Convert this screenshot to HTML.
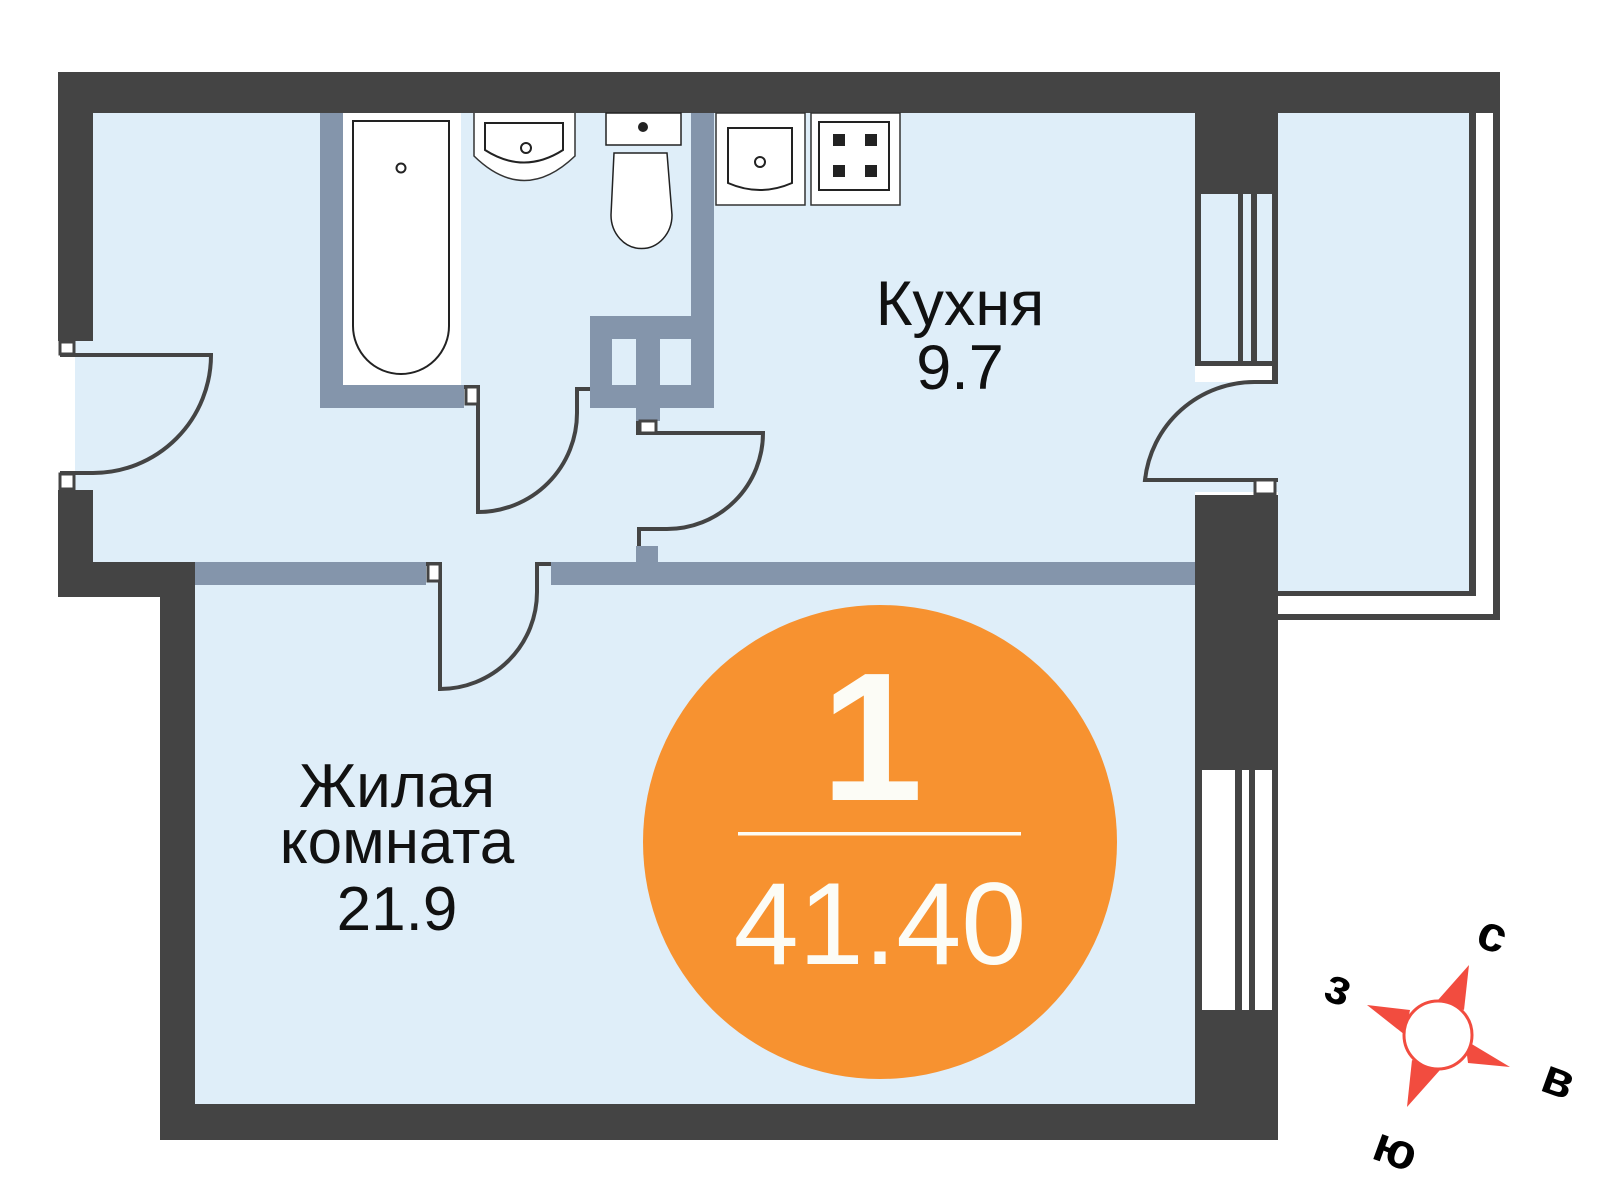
<!DOCTYPE html>
<html><head><meta charset="utf-8"><style>
html,body{margin:0;padding:0;background:#fff;width:1600px;height:1200px;overflow:hidden}
svg{display:block}
text{font-family:"Liberation Sans",sans-serif}
</style></head><body>
<svg width="1600" height="1200" viewBox="0 0 1600 1200" xmlns="http://www.w3.org/2000/svg">
<rect x="75" y="113" width="1120" height="449" fill="#dfeef9"/>
<rect x="93" y="113" width="1102" height="449" fill="#dfeef9"/>
<rect x="195" y="562" width="1000" height="542" fill="#dfeef9"/>
<rect x="1278" y="113" width="191" height="478" fill="#dfeef9"/>
<rect x="1195" y="382" width="83" height="110" fill="#dfeef9"/>

<g fill="#444">
<rect x="58" y="72" width="1442" height="41"/>
<rect x="58" y="72" width="35" height="269"/>
<rect x="58" y="490" width="35" height="107"/>
<rect x="58" y="562" width="137" height="35"/>
<rect x="160" y="562" width="35" height="578"/>
<rect x="160" y="1104" width="1118" height="36"/>
<rect x="1195" y="113" width="83" height="81"/>
<rect x="1195" y="495" width="83" height="275"/>
<rect x="1195" y="1010" width="83" height="130"/>
<rect x="1469" y="113" width="7" height="483"/>
<rect x="1278" y="591" width="198" height="5"/>
<rect x="1493" y="113" width="7" height="507"/>
<rect x="1278" y="614" width="222" height="6"/>
</g>
<rect x="60" y="342" width="14" height="12" fill="#fff" stroke="#444" stroke-width="3"/>
<rect x="60" y="474" width="14" height="15" fill="#fff" stroke="#444" stroke-width="3"/>

<rect x="1195" y="194" width="83" height="171" fill="#dfeef9"/>
<g fill="#444">
<rect x="1195" y="194" width="6" height="172"/>
<rect x="1272" y="194" width="6" height="188"/>
<rect x="1195" y="361" width="83" height="5"/>
<rect x="1238" y="194" width="5" height="167"/>
<rect x="1251" y="194" width="6" height="167"/>
</g>
<rect x="1195" y="770" width="83" height="240" fill="#fff"/>
<g fill="#444">
<rect x="1195" y="770" width="7" height="240"/>
<rect x="1272" y="770" width="6" height="240"/>
<rect x="1235" y="770" width="7" height="240"/>
<rect x="1249" y="770" width="6" height="240"/>
</g>

<g fill="#8495ab">
<rect x="320" y="113" width="23" height="295"/>
<rect x="320" y="385" width="144" height="23"/>
<rect x="691" y="113" width="23" height="295"/>
<rect x="590" y="316" width="124" height="92"/>
<rect x="636" y="408" width="24" height="13"/>
<rect x="195" y="562" width="231" height="23"/>
<rect x="551" y="562" width="644" height="23"/>
<rect x="636" y="546" width="22" height="16"/>
</g>
<rect x="612" y="339" width="24" height="46" fill="#dfeef9"/>
<rect x="660" y="339" width="31" height="46" fill="#dfeef9"/>

<rect x="343" y="113" width="118" height="272" fill="#fff"/>
<path d="M353 121 H449 V326 A48 48 0 0 1 353 326 Z" fill="#fff" stroke="#222" stroke-width="2"/>
<circle cx="401" cy="168" r="4.5" fill="none" stroke="#222" stroke-width="2"/>
<path d="M474 113 V156 Q524 205 575 156 V113" fill="#fff" stroke="#333" stroke-width="1.5"/>
<path d="M485 123 H563 V150 Q524 175 485 150 Z" fill="#fff" stroke="#222" stroke-width="2"/>
<circle cx="526" cy="148" r="5" fill="none" stroke="#222" stroke-width="2"/>
<rect x="606" y="113" width="75" height="32" fill="#fff" stroke="#222" stroke-width="1.5"/>
<circle cx="643" cy="127" r="5" fill="#222"/>
<path d="M614 153 H667 L672 215 A30 33 0 1 1 611 215 Z" fill="#fff" stroke="#222" stroke-width="1.5"/>
<rect x="716" y="113" width="89" height="92" fill="#fff" stroke="#333" stroke-width="1.5"/>
<path d="M728 128 H792 V183 Q760 197 728 183 Z" fill="#fff" stroke="#222" stroke-width="2"/>
<circle cx="760" cy="162" r="5" fill="none" stroke="#222" stroke-width="2"/>
<rect x="811" y="113" width="89" height="92" fill="#fff" stroke="#333" stroke-width="1.5"/>
<rect x="819" y="122" width="70" height="68" fill="#fff" stroke="#222" stroke-width="2"/>
<g fill="#222">
<rect x="833" y="134" width="12" height="12"/><rect x="865" y="134" width="12" height="12"/>
<rect x="833" y="165" width="12" height="12"/><rect x="865" y="165" width="12" height="12"/>
</g>

<g fill="none" stroke="#444" stroke-width="4">
<path d="M60 355 H211 A118 118 0 0 1 93 473 H60"/>
<path d="M464 387 H478 V512 A99 99 0 0 0 577 413 V389 H590"/>
<rect x="466" y="387" width="12" height="17" fill="#fff" stroke-width="3"/>
<path d="M638 421 V433 H763 A96 96 0 0 1 667 529 H639 V546"/>
<rect x="640" y="421" width="16" height="12" fill="#fff" stroke-width="3"/>
<path d="M1278 382 H1255 A110 110 0 0 0 1145 480 H1278"/>
<rect x="1255" y="480" width="20" height="14" fill="#fff" stroke-width="3"/>
<path d="M426 564 H440 V689 A97 97 0 0 0 537 592 V564 H551"/>
<rect x="428" y="564" width="12" height="17" fill="#fff" stroke-width="3"/>
</g>

<g fill="#111" text-anchor="middle" font-size="63">
<text x="960" y="325">Кухня</text>
<text x="960" y="389">9.7</text>
<text x="397" y="807" font-size="62">Жилая</text>
<text x="397" y="863" font-size="62">комната</text>
<text x="397" y="930" font-size="62">21.9</text>
</g>

<circle cx="880" cy="842" r="237" fill="#f79230"/>
<text x="872" y="800" font-size="183" font-weight="bold" fill="#fcfcf6" text-anchor="middle">1</text>
<rect x="738" y="832" width="283" height="3.5" fill="#fcfcf6"/>
<text x="880" y="964" font-size="117" fill="#fcfcf6" text-anchor="middle">41.40</text>

<g fill="#f24c3f">
<polygon points="1469,965 1464,1010 1438,1000"/>
<polygon points="1510,1067 1468,1063 1465,1040"/>
<polygon points="1407,1107 1412,1060 1440,1070"/>
<polygon points="1367,1005 1410,1010 1405,1035"/>
</g>
<circle cx="1438" cy="1035" r="34" fill="#fff" stroke="#f24c3f" stroke-width="3"/>
<g font-size="50" font-weight="bold" fill="#000" text-anchor="middle">
<text transform="translate(1487,950) rotate(20)">с</text>
<text transform="translate(1553,1095) rotate(20)">в</text>
<text transform="translate(1390,1165) rotate(20)">ю</text>
<text transform="translate(1333,1003) rotate(20)">з</text>
</g>
</svg>
</body></html>
